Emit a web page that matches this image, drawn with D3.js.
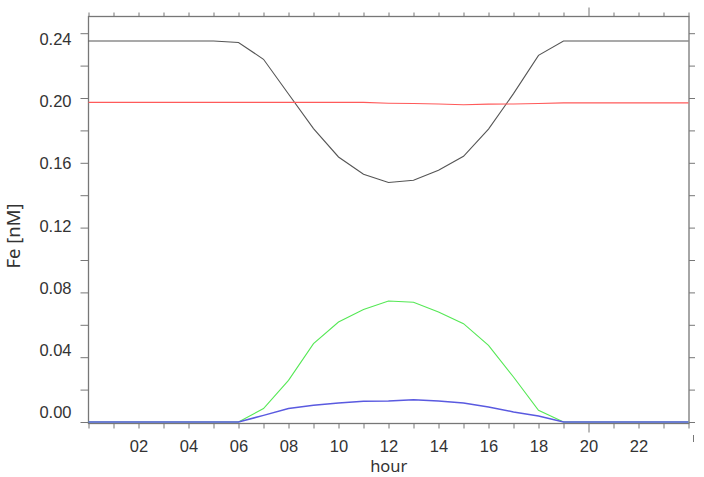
<!DOCTYPE html>
<html lang="en">
<head>
  <meta charset="UTF-8">
  <title>Fe diurnal cycle</title>
  <script src="https://d3js.org/d3.v7.min.js"></script>
  <style>
    body { margin: 0; background: #fff; }
    svg { display: block; font-family: "Noto Sans", sans-serif; }
    .axis text { fill: #333; font-size: 16.5px; }
    .axis line, .axis path { stroke: #777; }
  </style>
</head>
<body>
  <div id="chart"></div>
  <script>
    // hourly values
    const hours = d3.range(0, 25);
    const feBlack = [0.2352, 0.2352, 0.2352, 0.2352, 0.2352, 0.2352, 0.2343, 0.2239, 0.2025, 0.1811,
                     0.1636, 0.1529, 0.1478, 0.1492, 0.1554, 0.1640, 0.1808, 0.2027, 0.2263, 0.2352,
                     0.2352, 0.2352, 0.2352, 0.2352, 0.2352];
    const feRed = [0.1973, 0.1973, 0.1973, 0.1973, 0.1973, 0.1973, 0.1973, 0.1973, 0.1973, 0.1973,
                   0.1973, 0.1973, 0.1968, 0.1966, 0.1963, 0.1958, 0.1962, 0.1963, 0.1966, 0.1970,
                   0.1970, 0.1970, 0.1970, 0.1970, 0.1970];
    const feGreen = [0, 0, 0, 0, 0, 0, 0, 0.0083, 0.0257, 0.0484,
                     0.0617, 0.0694, 0.0747, 0.0739, 0.0679, 0.0607, 0.0473, 0.0278, 0.0072, 0,
                     0, 0, 0, 0, 0];
    const feBlue = [0, 0, 0, 0, 0, 0, 0, 0.0041, 0.0083, 0.0103,
                    0.0117, 0.0128, 0.0130, 0.0138, 0.0130, 0.0117, 0.0093, 0.0062, 0.0037, 0,
                    0, 0, 0, 0, 0];
    const xTickLabels = ["02", "04", "06", "08", "10", "12", "14", "16", "18", "20", "22"];
    const yTicks = [0, 0.04, 0.08, 0.12, 0.16, 0.20, 0.24];

    const series = [
      { values: feBlack, color: "#555", width: 1.1 },
      { values: feRed, color: "#ff5a5a", width: 1.1 },
      { values: feGreen, color: "#55e855", width: 1.1 },
      { values: feBlue, color: "#5a5ae0", width: 1.5 }
    ];

    const W = 704, H = 477;
    const mLeft = 88.5, mRight = 689, mTop = 16.5, mBottom = 423.5;

    const x = d3.scaleLinear().domain([0, 24]).range([mLeft, mLeft + 600]);
    const y = d3.scaleLinear().domain([0, 0.25]).range([422, 17]);
    // in the original the y labels sit on a slightly tighter spacing than the ticks
    const yLabel = d3.scaleLinear().domain([0, 0.24]).range([412.7, 38.9]);

    const svg = d3.select("#chart").append("svg")
      .attr("width", W).attr("height", H);

    // frame
    svg.append("rect")
      .attr("x", mLeft).attr("y", mTop)
      .attr("width", mRight - mLeft).attr("height", mBottom - mTop)
      .attr("fill", "none").attr("stroke", "#777").attr("stroke-width", 1.3);

    // bottom axis: hourly ticks, labels on even hours
    const xb = svg.append("g").attr("class", "axis")
      .attr("transform", `translate(0,${mBottom})`)
      .call(d3.axisBottom(x).tickValues(d3.range(0, 25)).tickSize(5).tickSizeOuter(0)
        .tickFormat(d => { const i = xTickLabels.indexOf(d3.format("02d")(d)); return i < 0 ? "" : xTickLabels[i]; }));
    xb.select(".domain").remove();
    xb.selectAll(".tick text").attr("dy", "1.25em");
    xb.selectAll(".tick line").filter(d => d === 20).attr("y2", 9);

    // top axis
    const xt = svg.append("g").attr("class", "axis")
      .attr("transform", `translate(0,${mTop})`)
      .call(d3.axisTop(x).tickValues(d3.range(0, 25)).tickSize(4).tickSizeOuter(0).tickFormat(""));
    xt.select(".domain").remove();
    xt.selectAll(".tick line").filter(d => d === 20).attr("y2", -9);

    // left axis
    const yl = svg.append("g").attr("class", "axis")
      .attr("transform", `translate(${mLeft},0)`)
      .call(d3.axisLeft(y).tickValues(d3.range(0, 0.25, 0.02)).tickSize(8).tickPadding(9).tickSizeOuter(0)
        .tickFormat(d => yTicks.some(t => Math.abs(t - d) < 1e-9) ? d3.format(".2f")(d) : ""));
    yl.select(".domain").remove();
    yl.selectAll(".tick text").attr("y", d => yLabel(d) - y(d));

    // right axis
    const yr = svg.append("g").attr("class", "axis")
      .attr("transform", `translate(${mRight},0)`)
      .call(d3.axisRight(y).tickValues(d3.range(0, 0.25, 0.02)).tickSize(6).tickSizeOuter(0).tickFormat(""));
    yr.select(".domain").remove();

    // small stray mark below the right end
    svg.append("line").attr("x1", 693.5).attr("x2", 693.5).attr("y1", 435).attr("y2", 442)
      .attr("stroke", "#777");

    // lines
    const line = d3.line().x((d, i) => x(hours[i])).y(d => y(d));
    series.forEach(s => {
      svg.append("path")
        .datum(s.values)
        .attr("d", line)
        .attr("fill", "none")
        .attr("stroke", s.color)
        .attr("stroke-width", s.width);
    });

    // axis titles
    svg.append("text")
      .attr("x", (mLeft + mRight) / 2).attr("y", 472)
      .attr("text-anchor", "middle")
      .attr("font-size", 16.5).attr("fill", "#333")
      .text("hour");

    svg.append("text")
      .attr("transform", "translate(20,236) rotate(-90)")
      .attr("text-anchor", "middle")
      .attr("font-size", 18.5).attr("fill", "#333")
      .text("Fe [nM]");
  </script>
</body>
</html>
